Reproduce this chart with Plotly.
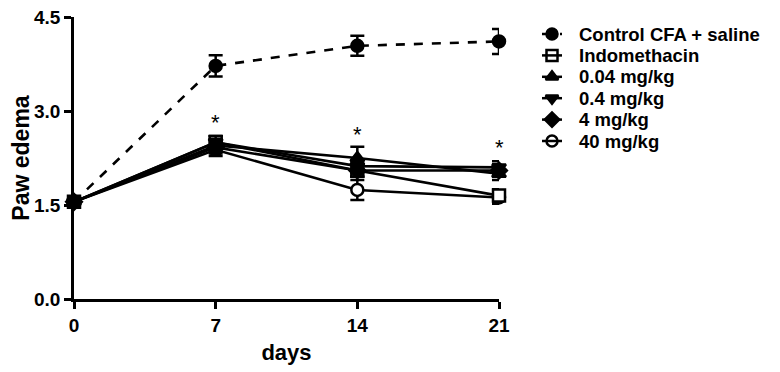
import plotly.graph_objects as go

days = [0, 7, 14, 21]
series_names = ["Control CFA + saline", "Indomethacin", "0.04 mg/kg", "0.4 mg/kg", "4 mg/kg", "40 mg/kg"]
control = [1.55, 3.72, 4.04, 4.11]
control_err = [0.05, 0.17, 0.16, 0.20]
indomethacin = [1.55, 2.50, 2.05, 1.65]
indomethacin_err = [0.05, 0.10, 0.10, 0.10]
dose_004 = [1.55, 2.45, 2.25, 2.00]
dose_004_err = [0.05, 0.10, 0.18, 0.10]
dose_04 = [1.55, 2.50, 2.12, 2.10]
dose_04_err = [0.05, 0.10, 0.10, 0.10]
dose_4 = [1.55, 2.42, 2.05, 2.05]
dose_4_err = [0.05, 0.10, 0.10, 0.10]
dose_40 = [1.55, 2.38, 1.74, 1.62]
dose_40_err = [0.05, 0.10, 0.16, 0.10]
star_days = [7, 14, 21]
star_y = [2.82, 2.62, 2.41]
y_ticks = [0.0, 1.5, 3.0, 4.5]
x_ticks = [0, 7, 14, 21]

values = [control, indomethacin, dose_004, dose_04, dose_4, dose_40]
errors = [control_err, indomethacin_err, dose_004_err, dose_04_err, dose_4_err, dose_40_err]
symbols = ["circle", "square", "triangle-up", "triangle-down", "diamond", "circle"]
fills = ["black", "white", "black", "black", "black", "white"]
dashes = ["dash", "solid", "solid", "solid", "solid", "solid"]

# figure geometry (page body adds an 8px offset)
W, H = 772, 364
px_left, px_right = 66, 491
px_top, px_bottom = 9, 291

fig = go.Figure()
draw_order = [5, 1, 4, 3, 2, 0]
for i in draw_order:
    fig.add_trace(go.Scatter(
        x=days, y=values[i], name=series_names[i], mode="lines+markers", showlegend=False,
        line=dict(color="black", width=2.6, dash=dashes[i]),
        marker=dict(symbol=symbols[i], size=12, color=fills[i], line=dict(color="black", width=2.5)),
        error_y=dict(type="data", array=errors[i], color="black", thickness=2.5, width=7),
        cliponaxis=False,
    ))

for xd, yd in zip(star_days, star_y):
    fig.add_annotation(x=xd, y=yd, text="*", showarrow=False,
                       font=dict(size=22, color="black", family="Liberation Sans"))

# manual legend on a full-figure pixel-mapped axis pair
leg_rows = [26, 47.4, 68.8, 90.2, 111.6, 133]
sym_x = 544
line_x0, line_x1 = 534, 554
text_x = 569
for name, yrow, d in zip(series_names, leg_rows, dashes):
    fig.add_shape(type="line", xref="x2", yref="y2", x0=line_x0, x1=line_x1, y0=yrow, y1=yrow,
                  line=dict(color="black", width=2.5, dash="dash" if d == "dash" else "solid"))
    fig.add_annotation(xref="x2", yref="y2", x=text_x, y=yrow, text=name, showarrow=False,
                       xanchor="left", yanchor="middle",
                       font=dict(size=18.5, color="black", family="Liberation Sans", weight="bold"))
fig.add_trace(go.Scatter(
    x=[sym_x] * len(series_names), y=leg_rows, xaxis="x2", yaxis="y2", mode="markers",
    showlegend=False, hoverinfo="skip",
    marker=dict(symbol=symbols, size=11, color=fills, line=dict(color="black", width=2.5)),
))

fig.update_layout(
    width=W, height=H,
    margin=dict(l=0, r=0, t=0, b=0, autoexpand=False),
    paper_bgcolor="white", plot_bgcolor="rgba(0,0,0,0)",
    font=dict(family="Liberation Sans", color="black"),
    showlegend=False,
    xaxis=dict(domain=[px_left / W, px_right / W], anchor="y",
               range=[0, 21], tickvals=x_ticks, showgrid=False, zeroline=False, automargin=False,
               showline=True, linecolor="black", linewidth=2.5,
               ticks="outside", ticklen=7, tickwidth=2.5, tickcolor="black",
               tickfont=dict(size=19, weight="bold"), ticklabeloverflow="allow",
               title=dict(text="days", font=dict(size=22, weight="bold"), standoff=11)),
    yaxis=dict(domain=[(H - px_bottom) / H, (H - px_top) / H], anchor="x",
               range=[0, 4.5], tickvals=y_ticks, tickformat=".1f", showgrid=False, zeroline=False,
               automargin=False,
               showline=True, linecolor="black", linewidth=2.5,
               ticks="outside", ticklen=7, tickwidth=2.5, tickcolor="black",
               tickfont=dict(size=19, weight="bold"), ticklabeloverflow="allow",
               title=dict(text="Paw edema", font=dict(size=23, weight="bold"), standoff=6)),
    xaxis2=dict(domain=[0, 1], anchor="y2", range=[0, W], visible=False, fixedrange=True),
    yaxis2=dict(domain=[0, 1], anchor="x2", range=[H, 0], visible=False, fixedrange=True),
)

fig.write_html("out.html")
